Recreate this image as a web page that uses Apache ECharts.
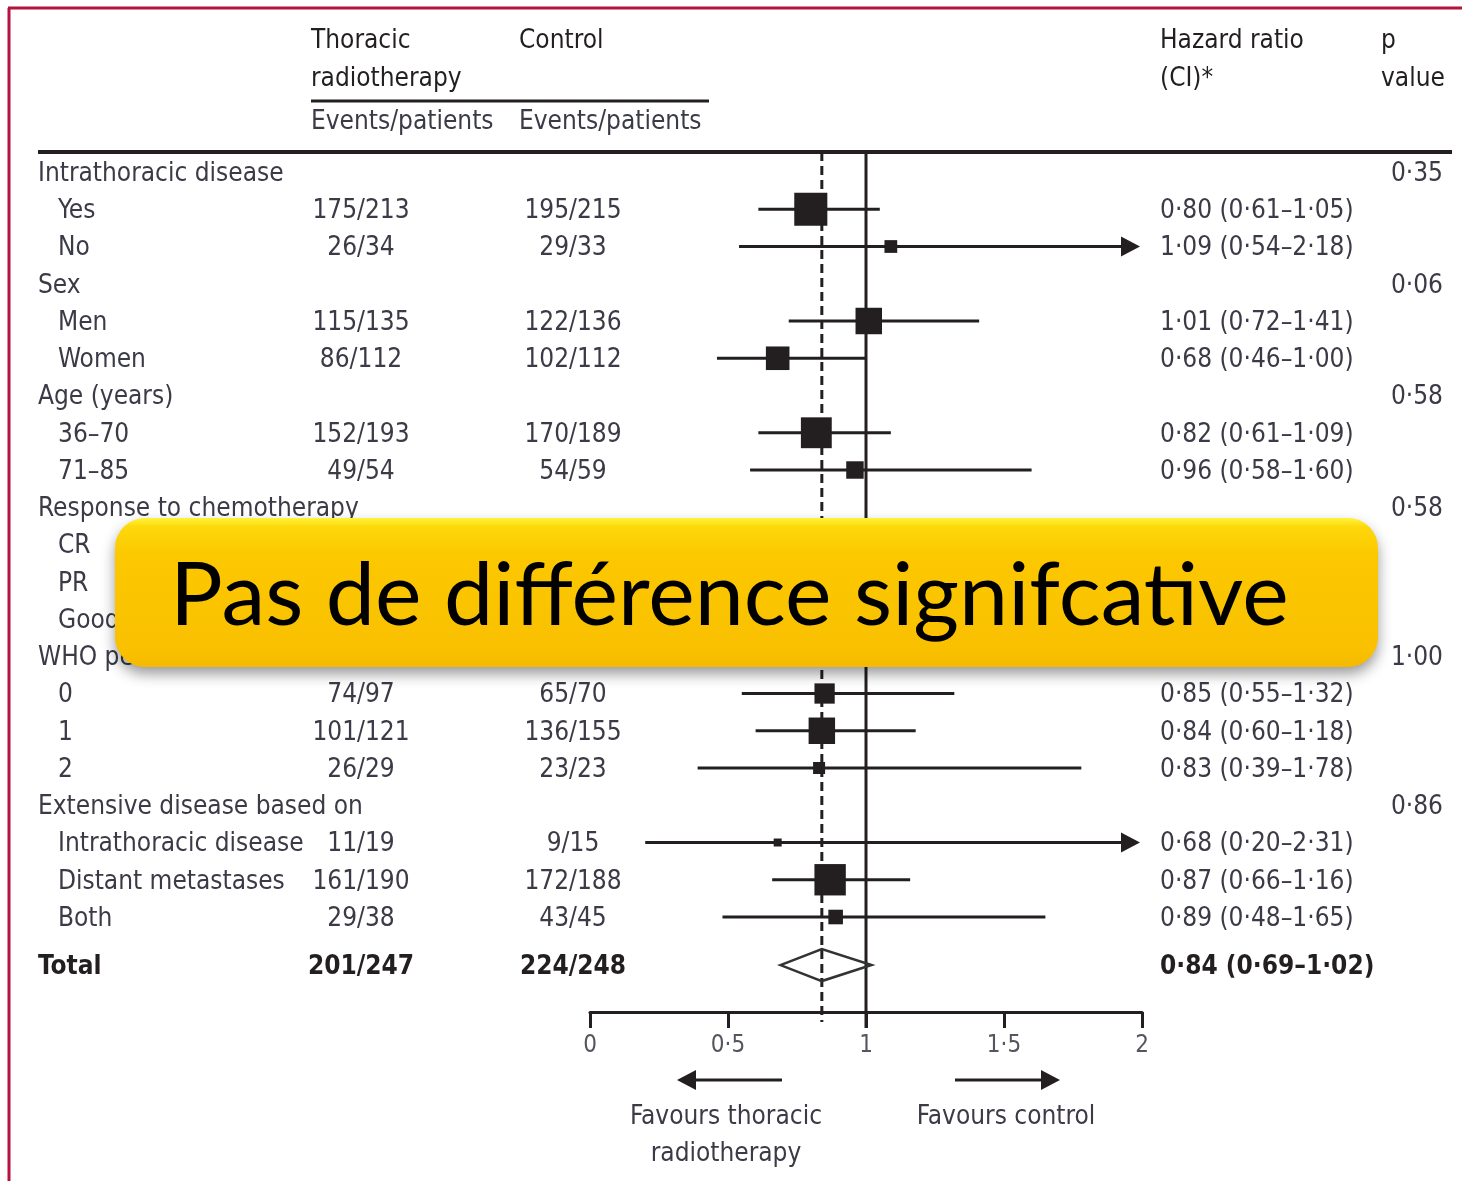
<!DOCTYPE html>
<html><head><meta charset="utf-8">
<script src="https://cdn.jsdelivr.net/npm/echarts@6/dist/echarts.min.js"></script>
<style>html,body{margin:0;padding:0;background:#fff}#c{width:1462px;height:1181px}</style>
</head><body><div id="c"></div>
<script>
// ---------- DATA ----------
const rowLabels = ["Intrathoracic disease","Yes","No","Sex","Men","Women","Age (years)","36–70","71–85",
  "Response to chemotherapy","CR","PR","Good PR","WHO performance status","0","1","2",
  "Extensive disease based on","Intrathoracic disease","Distant metastases","Both","Total"];
const rowType = [1,0,0,1,0,0,1,0,0,1,0,0,0,1,0,0,0,1,0,0,0,2]; // 1 = group header, 0 = subgroup, 2 = total
const thoracicEvents = ["","175/213","26/34","","115/135","86/112","","152/193","49/54","","","","","","74/97","101/121","26/29","","11/19","161/190","29/38","201/247"];
const controlEvents  = ["","195/215","29/33","","122/136","102/112","","170/189","54/59","","","","","","65/70","136/155","23/23","","9/15","172/188","43/45","224/248"];
const hr     = [null,0.80,1.09,null,1.01,0.68,null,0.82,0.96,null,null,null,null,null,0.85,0.84,0.83,null,0.68,0.87,0.89,0.84];
const ciLow  = [null,0.61,0.54,null,0.72,0.46,null,0.61,0.58,null,null,null,null,null,0.55,0.60,0.39,null,0.20,0.66,0.48,0.69];
const ciHigh = [null,1.05,2.18,null,1.41,1.00,null,1.09,1.60,null,null,null,null,null,1.32,1.18,1.78,null,2.31,1.16,1.65,1.02];
const pValues = ["0·35","","","0·06","","","0·58","","","0·58","","","","1·00","","","","0·86","","","",""];
const xTicks = [0, 0.5, 1, 1.5, 2];
const overallHR = 0.84;
const bannerText = "Pas de différence signifcative";

// ---------- HELPERS ----------
const dot = v => String(v).replace('.', '·');
const fmt = v => v.toFixed(2).replace('.', '·');
const hrText = hr.map((h, i) => h == null ? "" : `${fmt(h)} (${fmt(ciLow[i])}–${fmt(ciHigh[i])})`);
const evTotal = i => [thoracicEvents[i], controlEvents[i]].reduce((s, t) => s + (t ? parseInt(t.split('/')[0], 10) : 0), 0);
const rowPos = i => rowType[i] === 2 ? i + 0.29 : i;

const FONT = "'Liberation Sans Narrow','DejaVu Sans Condensed','Roboto Condensed',sans-serif";
const INK = '#231f20';
const TXT = '#3b3b47';
const FS = 26;

const forestData = [];
hr.forEach((h, i) => { if (h != null) forestData.push([h, rowPos(i), ciLow[i], ciHigh[i], i]); });
const textData = rowLabels.map((l, i) => [0, rowPos(i), i]);

const chart = echarts.init(document.getElementById('c'), null, {renderer: 'canvas'});

function txt(x, y, s, align, opts) {
  return {
    type: 'text', x: x, y: y,
    style: Object.assign({text: s, fill: TXT, font: `${FS}px ${FONT}`,
      align: align, textAlign: align, verticalAlign: 'middle', textVerticalAlign: 'middle'}, opts || {})
  };
}

const option = {
  animation: false,
  backgroundColor: '#ffffff',
  grid: {left: 590, right: 320, top: 152, bottom: 169},
  xAxis: {
    type: 'value', min: 0, max: 2, interval: 0.5, position: 'bottom',
    splitLine: {show: false},
    axisLine: {show: true, onZero: false, lineStyle: {color: INK, width: 3}},
    axisTick: {show: true, length: 16, lineStyle: {color: INK, width: 3}},
    axisLabel: {margin: 22, color: '#55555f', fontSize: 24, fontFamily: FONT, formatter: v => dot(v)},
    data: xTicks
  },
  yAxis: {type: 'value', inverse: true, min: -0.537, max: 22.55, show: false},
  series: [
    { // reference lines
      type: 'custom', clip: false, z: 1,
      data: [[overallHR, 0]],
      renderItem(params, api) {
        const cs = params.coordSys;
        const xd = api.coord([api.value(0), 0])[0];
        const x1 = api.coord([1, 0])[0];
        return {type: 'group', children: [
          {type: 'line', shape: {x1: x1, y1: cs.y, x2: x1, y2: cs.y + cs.height + 16}, style: {stroke: INK, lineWidth: 3}},
          {type: 'line', shape: {x1: xd, y1: cs.y, x2: xd, y2: cs.y + cs.height + 10}, style: {stroke: INK, lineWidth: 3, lineDash: [9, 5]}}
        ]};
      }
    },
    { // forest marks
      type: 'custom', clip: false, z: 3,
      encode: {x: 0, y: 1},
      data: forestData,
      renderItem(params, api) {
        const i = api.value(4);
        const y = api.coord([0, api.value(1)])[1];
        const cx = api.coord([api.value(0), 0])[0];
        const lx = api.coord([api.value(2), 0])[0];
        const hiV = api.value(3);
        const clipped = hiV > 2;
        const rx = api.coord([Math.min(hiV, 2), 0])[0];
        const ch = [];
        if (rowType[i] === 2) {
          ch.push({type: 'polygon', shape: {points: [[lx, y], [cx, y - 16], [rx, y], [cx, y + 16]]},
            style: {fill: 'rgba(255,255,255,0)', stroke: '#333', lineWidth: 2.5}});
          return {type: 'group', children: ch};
        }
        const tip = clipped ? rx - 2 : rx;
        ch.push({type: 'line', shape: {x1: lx, y1: y, x2: clipped ? tip - 10 : rx, y2: y}, style: {stroke: INK, lineWidth: 3}});
        if (clipped) ch.push({type: 'polygon', shape: {points: [[tip - 19, y - 10], [tip, y], [tip - 19, y + 10]]}, style: {fill: INK}});
        const s = Math.max(8, 1.72 * Math.sqrt(evTotal(i)));
        ch.push({type: 'rect', shape: {x: cx - s / 2, y: y - s / 2, width: s, height: s}, style: {fill: INK}});
        return {type: 'group', children: ch};
      }
    },
    { // table text
      type: 'custom', clip: false, z: 4,
      encode: {x: 0, y: 1},
      data: textData,
      renderItem(params, api) {
        const i = api.value(2);
        const y = api.coord([0, api.value(1)])[1] + 2;
        const bold = rowType[i] === 2;
        const o = bold ? {font: `bold ${FS}px ${FONT}`, fill: INK} : {};
        const ch = [txt(rowType[i] === 0 ? 58 : 38, y, rowLabels[i], 'left', o)];
        if (thoracicEvents[i]) ch.push(txt(361, y, thoracicEvents[i], 'center', o));
        if (controlEvents[i]) ch.push(txt(573, y, controlEvents[i], 'center', o));
        if (hrText[i]) ch.push(txt(1160, y, hrText[i], 'left', o));
        if (pValues[i]) ch.push(txt(1443, y, pValues[i], 'right', o));
        return {type: 'group', children: ch};
      }
    }
  ],
  graphic: {elements: [
    // frame
    {type: 'line', z: 50, shape: {x1: 8, y1: 8, x2: 1462, y2: 8}, style: {stroke: '#b5123e', lineWidth: 3}},
    {type: 'line', z: 50, shape: {x1: 9, y1: 8, x2: 9, y2: 1181}, style: {stroke: '#b5123e', lineWidth: 3}},
    // header
    txt(311, 41, 'Thoracic', 'left', {fill: INK}),
    txt(311, 79, 'radiotherapy', 'left', {fill: INK}),
    txt(519, 41, 'Control', 'left', {fill: INK}),
    txt(311, 122, 'Events/patients', 'left'),
    txt(519, 122, 'Events/patients', 'left'),
    txt(1160, 41, 'Hazard ratio', 'left', {fill: INK}),
    txt(1160, 79, '(CI)*', 'left', {fill: INK}),
    txt(1381, 41, 'p', 'left', {fill: INK}),
    txt(1381, 79, 'value', 'left', {fill: INK}),
    {type: 'line', shape: {x1: 311, y1: 101, x2: 709, y2: 101}, style: {stroke: INK, lineWidth: 3}},
    {type: 'line', shape: {x1: 38, y1: 152, x2: 1452, y2: 152}, style: {stroke: INK, lineWidth: 4}},
    // favours arrows
    {type: 'line', shape: {x1: 782, y1: 1080, x2: 690, y2: 1080}, style: {stroke: INK, lineWidth: 3}},
    {type: 'polygon', shape: {points: [[677, 1080], [696, 1070], [696, 1090]]}, style: {fill: INK}},
    {type: 'line', shape: {x1: 955, y1: 1080, x2: 1047, y2: 1080}, style: {stroke: INK, lineWidth: 3}},
    {type: 'polygon', shape: {points: [[1060, 1080], [1041, 1070], [1041, 1090]]}, style: {fill: INK}},
    txt(726, 1117, 'Favours thoracic', 'center'),
    txt(726, 1154, 'radiotherapy', 'center'),
    txt(1006, 1117, 'Favours control', 'center'),
    // banner
    {type: 'rect', z: 100, shape: {x: 115, y: 518, width: 1263, height: 149, r: 30},
      style: {fill: new echarts.graphic.LinearGradient(0, 0, 0, 1, [
        {offset: 0, color: '#fff43c'}, {offset: 0.06, color: '#fdd80a'}, {offset: 0.25, color: '#fcc800'},
        {offset: 0.9, color: '#f9c000'}, {offset: 1, color: '#f5b900'}]),
        shadowBlur: 14, shadowOffsetY: 7, shadowColor: 'rgba(0,0,0,0.4)'}},
    {type: 'text', z: 101, x: 170, y: 597,
      style: {text: bannerText, fill: '#000', font: "88px Lato, 'Noto Sans', sans-serif",
        align: 'left', textAlign: 'left', verticalAlign: 'middle', textVerticalAlign: 'middle'}}
  ]}
};
chart.setOption(option);
</script>
</body></html>
